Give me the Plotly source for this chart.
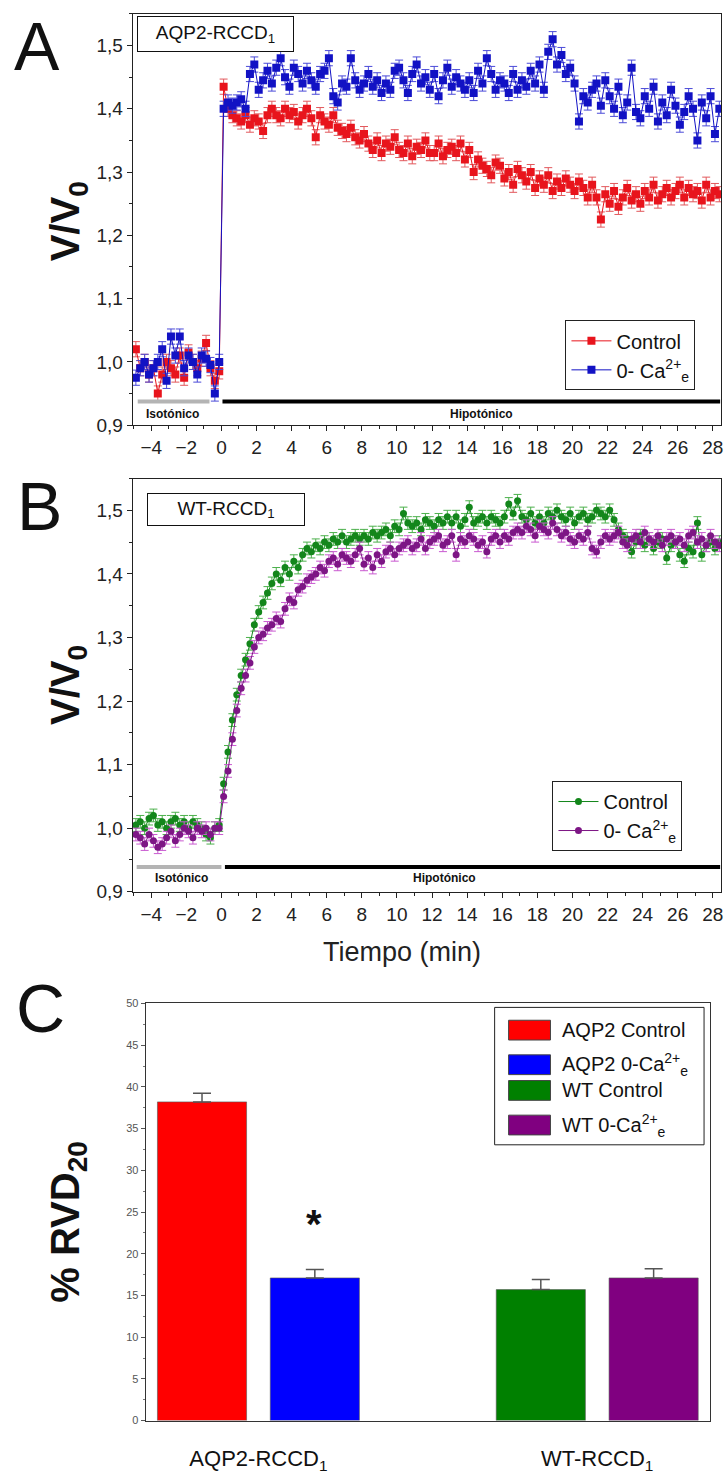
import plotly.graph_objects as go

W, H = 727, 1484
FONT = "Liberation Sans, Arial, sans-serif"

# ---------------- data ----------------
TIME = [
    -4.875, -4.625, -4.375, -4.125, -3.875, -3.625, -3.375, -3.125, -2.875, -2.625,
    -2.375, -2.125, -1.875, -1.625, -1.375, -1.125, -0.875, -0.625, -0.375, -0.125,
    0.125, 0.375, 0.625, 0.875, 1.125, 1.375, 1.625, 1.875,
    2.125, 2.375, 2.625, 2.875, 3.125, 3.375, 3.625, 3.875,
    4.125, 4.375, 4.625, 4.875, 5.125, 5.375, 5.625, 5.875,
    6.125, 6.375, 6.625, 6.875, 7.125, 7.375, 7.625, 7.875,
    8.125, 8.375, 8.625, 8.875, 9.125, 9.375, 9.625, 9.875,
    10.125, 10.375, 10.625, 10.875, 11.125, 11.375, 11.625, 11.875,
    12.125, 12.375, 12.625, 12.875, 13.125, 13.375, 13.625, 13.875,
    14.125, 14.375, 14.625, 14.875, 15.125, 15.375, 15.625, 15.875,
    16.125, 16.375, 16.625, 16.875, 17.125, 17.375, 17.625, 17.875,
    18.125, 18.375, 18.625, 18.875, 19.125, 19.375, 19.625, 19.875,
    20.125, 20.375, 20.625, 20.875, 21.125, 21.375, 21.625, 21.875,
    22.125, 22.375, 22.625, 22.875, 23.125, 23.375, 23.625, 23.875,
    24.125, 24.375, 24.625, 24.875, 25.125, 25.375, 25.625, 25.875,
    26.125, 26.375, 26.625, 26.875, 27.125, 27.375, 27.625, 27.875,
    28.125, 28.375,
]

A_CONTROL = [
    1.02, 0.99, 1.00, 0.98, 0.99, 0.95, 0.98, 1.00, 0.99, 0.98,
    1.01, 0.975, 1.015, 1.00, 0.99, 1.005, 1.03, 0.99, 0.97, 0.985,
    1.435, 1.40, 1.39, 1.385, 1.38, 1.39, 1.375, 1.385,
    1.38, 1.365, 1.39, 1.40, 1.39, 1.385, 1.40, 1.39,
    1.395, 1.38, 1.39, 1.40, 1.385, 1.355, 1.39, 1.38,
    1.375, 1.39, 1.37, 1.365, 1.36, 1.37, 1.355, 1.35,
    1.36, 1.345, 1.335, 1.35, 1.33, 1.345, 1.34, 1.355,
    1.335, 1.33, 1.345, 1.325, 1.34, 1.335, 1.35, 1.33,
    1.33, 1.345, 1.325, 1.335, 1.34, 1.33, 1.345, 1.32,
    1.335, 1.30, 1.32, 1.31, 1.305, 1.295, 1.315, 1.31,
    1.29, 1.30, 1.28, 1.305, 1.295, 1.285, 1.30, 1.275,
    1.29, 1.28, 1.295, 1.27, 1.285, 1.275, 1.29, 1.28,
    1.27, 1.285, 1.275, 1.26, 1.28, 1.26, 1.225, 1.265,
    1.25, 1.27, 1.245, 1.26, 1.275, 1.255, 1.265, 1.25,
    1.27, 1.26, 1.28, 1.255, 1.265, 1.275, 1.26, 1.27,
    1.28, 1.26, 1.275, 1.265, 1.27, 1.255, 1.28, 1.26,
    1.27, 1.265,
]

A_ZERO_CA = [
    0.975, 0.99, 1.00, 0.98, 0.99, 1.00, 1.02, 0.97, 1.04, 1.01,
    1.04, 0.99, 1.01, 1.00, 0.98, 1.01, 1.005, 0.995, 0.95, 1.00,
    1.40, 1.41, 1.405, 1.41, 1.415, 1.40, 1.455, 1.47,
    1.43, 1.445, 1.46, 1.44, 1.465, 1.48, 1.45, 1.435,
    1.465, 1.455, 1.44, 1.46, 1.445, 1.435, 1.455, 1.46,
    1.48, 1.42, 1.41, 1.44, 1.435, 1.48, 1.445, 1.43,
    1.44, 1.455, 1.435, 1.445, 1.425, 1.44, 1.43, 1.46,
    1.465, 1.445, 1.425, 1.455, 1.47, 1.44, 1.45, 1.43,
    1.455, 1.42, 1.445, 1.465, 1.435, 1.45, 1.44, 1.43,
    1.445, 1.425, 1.46, 1.44, 1.48, 1.455, 1.43, 1.445,
    1.44, 1.425, 1.455, 1.43, 1.445, 1.435, 1.46, 1.44,
    1.47, 1.43, 1.49, 1.51, 1.47, 1.485, 1.455, 1.465,
    1.44, 1.38, 1.42, 1.41, 1.43, 1.44, 1.405, 1.445,
    1.42, 1.40, 1.435, 1.39, 1.41, 1.465, 1.395, 1.385,
    1.42, 1.40, 1.435, 1.38, 1.41, 1.39, 1.43, 1.405,
    1.375, 1.395, 1.42, 1.40, 1.35, 1.41, 1.385, 1.42,
    1.36, 1.40,
]

B_CONTROL = [
    1.005, 1.01, 1.00, 1.015, 1.02, 1.005, 1.01, 1.00, 1.01, 1.015,
    1.005, 1.01, 1.00, 1.01, 1.005, 1.00, 0.99, 0.985, 1.00, 1.005,
    1.07, 1.12, 1.17, 1.21, 1.24, 1.265, 1.29, 1.32,
    1.34, 1.355, 1.37, 1.385, 1.40, 1.39, 1.41, 1.40,
    1.42, 1.41, 1.43, 1.44, 1.435, 1.445, 1.44, 1.45,
    1.445, 1.455, 1.45, 1.46, 1.45, 1.455, 1.46, 1.455,
    1.46, 1.455, 1.465, 1.46, 1.465, 1.47, 1.46, 1.475,
    1.47, 1.495, 1.48, 1.475, 1.48, 1.47, 1.485, 1.48,
    1.475, 1.485, 1.48, 1.49, 1.48, 1.49, 1.475, 1.485,
    1.505, 1.48, 1.485, 1.49, 1.48, 1.49, 1.485, 1.48,
    1.49, 1.51, 1.495, 1.515, 1.49, 1.485, 1.495, 1.48,
    1.49, 1.48, 1.495, 1.49, 1.50, 1.49, 1.485, 1.495,
    1.48, 1.49, 1.495, 1.485, 1.49, 1.50, 1.495, 1.49,
    1.50, 1.485, 1.47, 1.46, 1.455, 1.435, 1.45, 1.46,
    1.445, 1.455, 1.44, 1.45, 1.455, 1.425, 1.445, 1.45,
    1.43, 1.42, 1.44, 1.435, 1.48, 1.43, 1.445, 1.45,
    1.44, 1.45,
]

B_ZERO_CA = [
    0.99, 0.985, 0.975, 0.99, 0.98, 0.97, 0.975, 0.985, 0.995, 0.98,
    0.99, 1.00, 0.995, 0.985, 1.00, 0.995, 1.00, 0.99, 1.00, 1.00,
    1.05, 1.09, 1.14, 1.185, 1.22, 1.24, 1.26, 1.285,
    1.30, 1.305, 1.315, 1.32, 1.33, 1.325, 1.345, 1.36,
    1.355, 1.375, 1.38, 1.39, 1.395, 1.40, 1.41, 1.405,
    1.42, 1.425, 1.415, 1.43, 1.425, 1.42, 1.43, 1.44,
    1.415, 1.425, 1.41, 1.43, 1.42, 1.435, 1.44, 1.43,
    1.44, 1.445, 1.45, 1.44, 1.445, 1.455, 1.44, 1.45,
    1.455, 1.46, 1.445, 1.45, 1.46, 1.43, 1.455, 1.45,
    1.46, 1.455, 1.445, 1.45, 1.435, 1.455, 1.46, 1.45,
    1.46, 1.455, 1.465, 1.47, 1.465, 1.475, 1.47, 1.46,
    1.475, 1.47, 1.465, 1.48, 1.47, 1.46, 1.465, 1.455,
    1.45, 1.46, 1.455, 1.465, 1.44, 1.435, 1.45, 1.46,
    1.455, 1.46, 1.465, 1.45, 1.445, 1.455, 1.46, 1.45,
    1.465, 1.455, 1.45, 1.46, 1.445, 1.455, 1.46, 1.45,
    1.455, 1.445, 1.46, 1.465, 1.45, 1.455, 1.445, 1.46,
    1.45, 1.445,
]

A_ERR = 0.012   # SEM, panel A
B_ERR = 0.010   # SEM, panel B

GROUPS = ["AQP2-RCCD<sub>1</sub>", "WT-RCCD<sub>1</sub>"]
RVD_CONTROL = [38.2, 15.7]
RVD_CONTROL_ERR = [1.05, 1.2]
RVD_ZERO_CA = [17.1, 17.1]
RVD_ZERO_CA_ERR = [1.0, 1.1]
BAR_LEGEND = ["AQP2 Control", "AQP2 0-Ca<sup>2+</sup><sub>e</sub>",
              "WT Control", "WT 0-Ca<sup>2+</sup><sub>e</sub>"]

# ---------------- styling ----------------
RED, RED_E = "#e8141c", "#e2585c"
BLUE, BLUE_E = "#1212c4", "#4a4ad8"
GREEN, GREEN_E = "#13861b", "#4cb04c"
PURPLE, PURPLE_E = "#7d1685", "#c95ad0"
BAR_COLORS = ["#ff0000", "#0000ff", "#008000", "#800080"]

X_RANGE = [-5.06, 28.47]
Y_RANGE = [0.9, 1.55]


def px(x):
    return x / W


def py(y):
    return 1 - y / H


fig = go.Figure()


def add_series(x, y, err, name, color, ecolor, symbol, size, xa, ya, legend):
    fig.add_trace(go.Scatter(
        x=x, y=y, name=name, mode="lines+markers",
        line=dict(color=color, width=1),
        marker=dict(symbol=symbol, size=size, color=color),
        error_y=dict(type="constant", value=err, color=ecolor, thickness=1, width=4),
        xaxis=xa, yaxis=ya, legend=legend,
    ))


CA_NAME = "0- Ca<sup>2+</sup><sub>e</sub>"
add_series(TIME, A_CONTROL, A_ERR, "Control", RED, RED_E, "square", 8, "x", "y", "legend")
add_series(TIME, A_ZERO_CA, A_ERR, CA_NAME, BLUE, BLUE_E, "square", 8, "x", "y", "legend")
add_series(TIME, B_CONTROL, B_ERR, "Control", GREEN, GREEN_E, "circle", 7, "x2", "y2", "legend2")
add_series(TIME, B_ZERO_CA, B_ERR, CA_NAME, PURPLE, PURPLE_E, "circle", 7, "x2", "y2", "legend2")

# bars (panel C)
fig.add_trace(go.Bar(
    x=GROUPS, y=RVD_CONTROL, name="Control", showlegend=False,
    marker=dict(color=[BAR_COLORS[0], BAR_COLORS[2]], line=dict(color="#555", width=0.6)),
    error_y=dict(type="data", array=RVD_CONTROL_ERR, arrayminus=[0, 0],
                 color="#555", thickness=1.5, width=9),
    xaxis="x3", yaxis="y3",
))
fig.add_trace(go.Bar(
    x=GROUPS, y=RVD_ZERO_CA, name="0-Ca", showlegend=False,
    marker=dict(color=[BAR_COLORS[1], BAR_COLORS[3]], line=dict(color="#555", width=0.6)),
    error_y=dict(type="data", array=RVD_ZERO_CA_ERR, arrayminus=[0, 0],
                 color="#555", thickness=1.5, width=9),
    xaxis="x3", yaxis="y3",
))

axis_common = dict(showline=True, mirror=True, linecolor="#222", linewidth=1,
                   showgrid=False, zeroline=False, ticks="outside",
                   tickcolor="#222", ticklen=5)

tick_font = dict(family=FONT, size=19, color="#222")

xA = dict(axis_common, domain=[px(133), px(723)], range=X_RANGE, tick0=0, dtick=2,
          minor=dict(dtick=1, ticks="outside", ticklen=3, tickcolor="#222"),
          tickfont=tick_font, anchor="y")
yA = dict(axis_common, domain=[py(424), py(8)], range=Y_RANGE, dtick=0.1, tickformat=".1f",
          minor=dict(dtick=0.05, ticks="outside", ticklen=3, tickcolor="#222"),
          tickfont=tick_font, anchor="x")
xB = dict(xA, domain=[px(133), px(723)], anchor="y2")
yB = dict(yA, domain=[py(896), py(478)], anchor="x2")
xC = dict(showline=True, mirror=True, linecolor="#333", linewidth=1, showgrid=False,
          zeroline=False, ticks="", range=[-0.333, 1.333],
          domain=[px(146), px(712)], anchor="y3", ticklabelstandoff=18,
          tickfont=dict(family=FONT, size=22, color="#111"))
yC = dict(showline=True, mirror=True, linecolor="#333", linewidth=1, showgrid=False,
          zeroline=False, ticks="outside", ticklen=4, tickcolor="#555",
          range=[0, 50], dtick=5, domain=[py(1431), py(1009)], anchor="x3",
          minor=dict(dtick=2.5, ticks="outside", ticklen=2, tickcolor="#777"),
          tickfont=dict(family=FONT, size=11, color="#555"))

leg_common = dict(bordercolor="#222", borderwidth=1, bgcolor="white",
                  font=dict(family=FONT, size=20, color="#111"),
                  xanchor="left", yanchor="top", tracegroupgap=2, itemwidth=40)

fig.update_layout(
    width=W, height=H, margin=dict(l=0, r=0, t=0, b=0),
    paper_bgcolor="white", plot_bgcolor="white",
    separators=",.",
    font=dict(family=FONT, color="#111"),
    barmode="group", bargap=0.334, bargroupgap=0.21,
    xaxis=xA, yaxis=yA, xaxis2=xB, yaxis2=yB, xaxis3=xC, yaxis3=yC,
    legend=dict(leg_common, x=px(567), y=py(318)),
    legend2=dict(leg_common, x=px(554), y=py(784)),
)

ann = []
# panel letters
for letter, (lx, ly) in {"A": (37, 40), "B": (40, 506), "C": (41, 1014)}.items():
    ann.append(dict(text=letter, x=px(lx), y=py(ly), xref="paper", yref="paper",
                    showarrow=False, xanchor="center", yanchor="middle",
                    font=dict(family=FONT, size=68, color="#111")))
# y titles
for txt, ty in [("<b>V/V<sub>0</sub></b>", 218), ("<b>V/V<sub>0</sub></b>", 687),
                ("<b>% RVD<sub>20</sub></b>", 1230)]:
    ann.append(dict(text=txt, x=px(68), y=py(ty), xref="paper", yref="paper",
                    showarrow=False, textangle=-90, xanchor="center", yanchor="middle",
                    font=dict(family=FONT, size=40, color="#111")))
# x title
ann.append(dict(text="Tiempo (min)", x=px(403), y=py(957), xref="paper", yref="paper",
                showarrow=False, xanchor="center", yanchor="middle",
                font=dict(family=FONT, size=27, color="#222")))
# cell-line boxes
ann.append(dict(text="AQP2-RCCD<sub>1</sub>", x=px(137), y=py(10), xref="paper", yref="paper",
                showarrow=False, xanchor="left", yanchor="top", width=153, height=32,
                bordercolor="#111", borderwidth=1, bgcolor="white",
                font=dict(family=FONT, size=19, color="#111")))
ann.append(dict(text="WT-RCCD<sub>1</sub>", x=px(147), y=py(493), xref="paper", yref="paper",
                showarrow=False, xanchor="left", yanchor="top", width=154, height=29,
                bordercolor="#111", borderwidth=1, bgcolor="white",
                font=dict(family=FONT, size=19, color="#111")))
# protocol labels
ann.append(dict(text="<b>Isotónico</b>", x=-2.8, y=0.918, xref="x", yref="y", showarrow=False,
                font=dict(family=FONT, size=12, color="#111")))
ann.append(dict(text="<b>Hipotónico</b>", x=14.8, y=0.918, xref="x", yref="y", showarrow=False,
                font=dict(family=FONT, size=12, color="#111")))
ann.append(dict(text="<b>Isotónico</b>", x=-2.3, y=0.921, xref="x2", yref="y2", showarrow=False,
                font=dict(family=FONT, size=12, color="#111")))
ann.append(dict(text="<b>Hipotónico</b>", x=12.7, y=0.921, xref="x2", yref="y2", showarrow=False,
                font=dict(family=FONT, size=12, color="#111")))
# significance mark above AQP2 0-Ca bar
ann.append(dict(text="<b>*</b>", x=GROUPS[0], y=RVD_ZERO_CA[0] + RVD_ZERO_CA_ERR[0] + 5.5,
                xref="x3", yref="y3", xshift=56, showarrow=False,
                font=dict(family=FONT, size=40, color="#111")))

shapes = []
ISO_SPAN_A = [-4.77, -0.68]
ISO_SPAN_B = [-4.83, 0.0]
HYPO_START = [0.06, 0.2]
BAR_Y = [0.9375, 0.939]
for i, (xr, yr) in enumerate([("x", "y"), ("x2", "y2")]):
    iso = ISO_SPAN_A if i == 0 else ISO_SPAN_B
    shapes.append(dict(type="line", xref=xr, yref=yr, x0=iso[0], x1=iso[1], y0=BAR_Y[i], y1=BAR_Y[i],
                       line=dict(color="#b4b4b4", width=4)))
    shapes.append(dict(type="line", xref=xr, yref=yr, x0=HYPO_START[i], x1=X_RANGE[1] - 0.05,
                       y0=BAR_Y[i], y1=BAR_Y[i], line=dict(color="#000", width=4)))

# legend for panel C (drawn manually for large swatches)
shapes.append(dict(type="rect", xref="paper", yref="paper", x0=px(496), x1=px(706),
                   y0=py(1152), y1=py(1013), line=dict(color="#222", width=1),
                   fillcolor="white", layer="above"))
for c, lab, yc in zip(BAR_COLORS, BAR_LEGEND, [1036, 1071, 1097, 1132]):
    shapes.append(dict(type="rect", xref="paper", yref="paper", x0=px(510), x1=px(552),
                       y0=py(yc + 10), y1=py(yc - 10), line=dict(color="#444", width=1),
                       fillcolor=c, layer="above"))
    ann.append(dict(text=lab, x=px(562), y=py(yc), xref="paper", yref="paper",
                    showarrow=False, xanchor="left", yanchor="middle",
                    font=dict(family=FONT, size=20, color="#111")))

fig.update_layout(annotations=ann, shapes=shapes)

fig.write_html("out.html")
